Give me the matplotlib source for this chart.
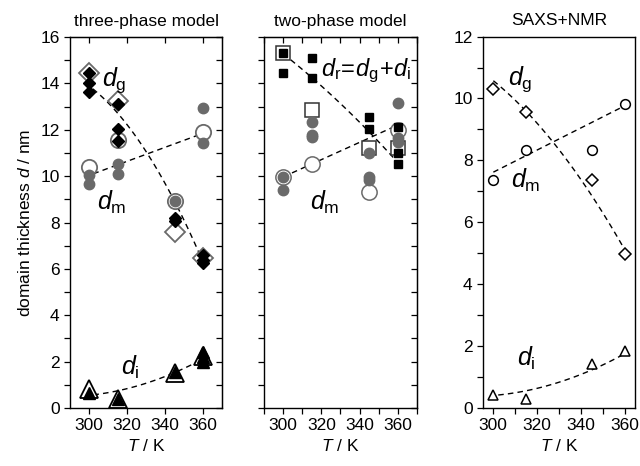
import matplotlib
matplotlib.use("Agg")
import matplotlib.pyplot as plt
import numpy as np

plt.rcParams['font.family'] = ['Liberation Sans', 'DejaVu Sans']
plt.rcParams['mathtext.fontset'] = 'custom'
plt.rcParams['mathtext.rm'] = 'Liberation Sans'
plt.rcParams['mathtext.it'] = 'Liberation Sans:italic'

GRAY = '#6a6a6a'

# ---- three-phase model ----
p1_dg_open_T = [300, 315, 345, 360]
p1_dg_open = [14.43, 13.24, 7.6, 6.45]
p1_dg_T = [300, 300, 300, 315, 315, 315, 345, 345, 360, 360, 360]
p1_dg = [14.43, 14.03, 13.64, 13.1, 12.03, 11.5, 8.2, 8.05, 6.6, 6.38, 6.25]
p1_dm_open_T = [300, 315, 345, 360]
p1_dm_open = [10.4, 11.56, 8.93, 11.89]
p1_dm_T = [300, 300, 315, 315, 345, 360, 360]
p1_dm = [10.05, 9.65, 10.52, 10.08, 8.93, 12.92, 11.41]
p1_di_open_T = [300, 315, 345, 360]
p1_di_open = [0.8, 0.37, 1.52, 2.24]
p1_di_T = [300, 315, 345, 360, 360, 360]
p1_di = [0.65, 0.4, 1.55, 2.43, 2.21, 2.0]
# dashed guide lines
p1_fit_dg_T = [302, 315.4, 330.4, 345.3, 359.3]
p1_fit_dg = [13.8, 12.63, 10.98, 8.97, 6.38]
p1_fit_dm_T = [302.3, 330.4, 360.2]
p1_fit_dm = [10.09, 10.98, 11.84]
p1_fit_di_T = [302.3, 319.8, 344.9, 359.3]
p1_fit_di = [0.56, 0.85, 1.5, 2.1]

# ---- two-phase model ----
p2_dr_open_T = [300, 315, 345, 360]
p2_dr_open = [15.3, 12.85, 11.2, 11.22]
p2_dr_T = [300, 300, 315, 315, 345, 345, 360, 360, 360]
p2_dr = [15.3, 14.46, 15.08, 14.22, 12.54, 12.03, 12.1, 10.98, 10.52]
p2_dm_open_T = [300, 315, 345, 360]
p2_dm_open = [9.97, 10.52, 9.33, 11.99]
p2_dm_T = [300, 300, 315, 315, 315, 345, 345, 345, 360, 360, 360]
p2_dm = [9.97, 9.4, 12.32, 11.77, 11.67, 10.98, 9.97, 9.83, 13.14, 11.63, 11.48]
p2_fit_dr_T = [300, 314.9, 342.8, 360.2]
p2_fit_dr = [15.3, 14.22, 12.13, 10.55]
p2_fit_dm_T = [300, 315, 362]
p2_fit_dm = [9.97, 10.52, 12.28]

# ---- SAXS+NMR ----
p3_T = [300, 315, 345, 360]
p3_dg = [10.31, 9.56, 7.35, 4.99]
p3_dm = [7.38, 8.34, 8.32, 9.83]
p3_di = [0.42, 0.29, 1.42, 1.84]
p3_fit_dg_T = [300.2, 328.2, 351.6, 359.2]
p3_fit_dg = [10.58, 8.48, 6.17, 5.15]
p3_fit_dm_T = [300.2, 360]
p3_fit_dm = [7.62, 9.77]
p3_fit_di_T = [302.4, 319.9, 344.8, 360]
p3_fit_di = [0.42, 0.63, 1.23, 1.76]


def guide(ax, T, y, deg=2):
    c = np.polyfit(T, y, min(deg, len(T) - 1))
    t = np.linspace(min(T), max(T), 100)
    ax.plot(t, np.polyval(c, t), color='black', lw=1.0, ls=(0, (4, 3)), zorder=1)


def style(ax, ymax, top_right=True, minor_x=False):
    ax.set_xlim(290, 370)
    ax.set_ylim(0, ymax)
    ax.set_xticks([300, 320, 340, 360])
    if minor_x:
        ax.set_xticks(np.arange(290, 371, 10), minor=True)
    ax.tick_params(axis='both', which='both', direction='out', length=4,
                   width=0.9, labelsize=12.5)
    for s in ax.spines.values():
        s.set_linewidth(1.0)
    ax.set_xlabel('$T$ / K', fontsize=12.5, labelpad=3)
    if top_right:
        sec = ax.secondary_xaxis('top')
        sec.set_xticks([300, 320, 340, 360])
        if minor_x:
            sec.set_xticks(np.arange(290, 371, 10), minor=True)
        sec.tick_params(which='both', direction='in', length=4, width=0.9)
        sec.set_xticklabels([])
        sec2 = ax.secondary_yaxis('right')
        sec2.set_yticks(np.arange(0, ymax + 1, 2))
        sec2.set_yticks(np.arange(0, ymax + 1, 1), minor=True)
        sec2.tick_params(which='both', direction='in', length=4, width=0.9)
        sec2.set_yticklabels([])


fig = plt.figure(figsize=(6.4, 4.66), dpi=100)
ax1 = fig.add_axes([0.1094, 0.1245, 0.2375, 0.796])
ax2 = fig.add_axes([0.4125, 0.1245, 0.239, 0.796])
ax3 = fig.add_axes([0.7547, 0.1245, 0.2375, 0.797])

# panel 1
guide(ax1, p1_fit_dg_T, p1_fit_dg)
guide(ax1, p1_fit_dm_T, p1_fit_dm, 1)
guide(ax1, p1_fit_di_T, p1_fit_di)
ax1.plot(p1_dg_open_T, p1_dg_open, 'D', ms=10, mfc='white', mec=GRAY, mew=1.3, ls='none', zorder=2)
ax1.plot(p1_dm_open_T, p1_dm_open, 'o', ms=11, mfc='white', mec=GRAY, mew=1.3, ls='none', zorder=2)
ax1.plot(p1_di_open_T, p1_di_open, '^', ms=13, mfc='white', mec='black', mew=1.3, ls='none', zorder=2)
ax1.plot(p1_dm_T, p1_dm, 'o', ms=7.5, color=GRAY, ls='none', zorder=3)
ax1.plot(p1_dg_T, p1_dg, 'D', ms=6.5, color='black', ls='none', zorder=4)
ax1.plot(p1_di_T, p1_di, '^', ms=9, color='black', ls='none', zorder=4)
style(ax1, 16)
ax1.set_yticks(np.arange(0, 17, 2))
ax1.set_yticks(np.arange(0, 17, 1), minor=True)
ax1.set_ylabel('domain thickness $d$ / nm', fontsize=12.5, labelpad=5)
ax1.set_title('three-phase model', fontsize=12.5, pad=8)
ax1.text(307, 13.9, r'$d_\mathrm{g}$', fontsize=18)
ax1.text(304, 8.55, r'$d_\mathrm{m}$', fontsize=18)
ax1.text(317, 1.45, r'$d_\mathrm{i}$', fontsize=18)

# panel 2
guide(ax2, p2_fit_dr_T, p2_fit_dr)
guide(ax2, p2_fit_dm_T, p2_fit_dm, 1)
ax2.plot(p2_dr_open_T, p2_dr_open, 's', ms=10, mfc='white', mec='#333333', mew=1.1, ls='none', zorder=2)
ax2.plot(p2_dm_open_T, p2_dm_open, 'o', ms=11, mfc='white', mec=GRAY, mew=1.1, ls='none', zorder=2)
ax2.plot(p2_dm_T, p2_dm, 'o', ms=7.5, color=GRAY, ls='none', zorder=3)
ax2.plot(p2_dr_T, p2_dr, 's', ms=6, color='black', ls='none', zorder=4)
style(ax2, 16, minor_x=True)
ax2.set_yticks(np.arange(0, 17, 2))
ax2.set_yticks(np.arange(0, 17, 1), minor=True)
ax2.set_yticklabels([])
ax2.set_title('two-phase model', fontsize=12.5, pad=8)
ax2.text(320, 14.3, r'$d_\mathrm{r}\!=\!d_\mathrm{g}\!+\!d_\mathrm{i}$', fontsize=17)
ax2.text(314, 8.55, r'$d_\mathrm{m}$', fontsize=18)

# panel 3
guide(ax3, p3_fit_dg_T, p3_fit_dg)
guide(ax3, p3_fit_dm_T, p3_fit_dm, 1)
guide(ax3, p3_fit_di_T, p3_fit_di)
ax3.plot(p3_T, p3_dg, 'D', ms=6.5, mfc='white', mec='black', mew=1.1, ls='none', zorder=3)
ax3.plot(p3_T, p3_dm, 'o', ms=7, mfc='white', mec='black', mew=1.1, ls='none', zorder=3)
ax3.plot(p3_T, p3_di, '^', ms=7.5, mfc='white', mec='black', mew=1.1, ls='none', zorder=3)
style(ax3, 12, top_right=False, minor_x=True)
ax3.set_xlim(295.5, 364.5)
ax3.set_yticks(np.arange(0, 13, 2))
ax3.set_yticks(np.arange(0, 13, 1), minor=True)
ax3.set_title('SAXS+NMR', fontsize=12.5, pad=8)
ax3.text(307, 10.45, r'$d_\mathrm{g}$', fontsize=18)
ax3.text(308, 7.1, r'$d_\mathrm{m}$', fontsize=18)
ax3.text(311, 1.35, r'$d_\mathrm{i}$', fontsize=18)

fig.savefig('out.png', dpi=100)
